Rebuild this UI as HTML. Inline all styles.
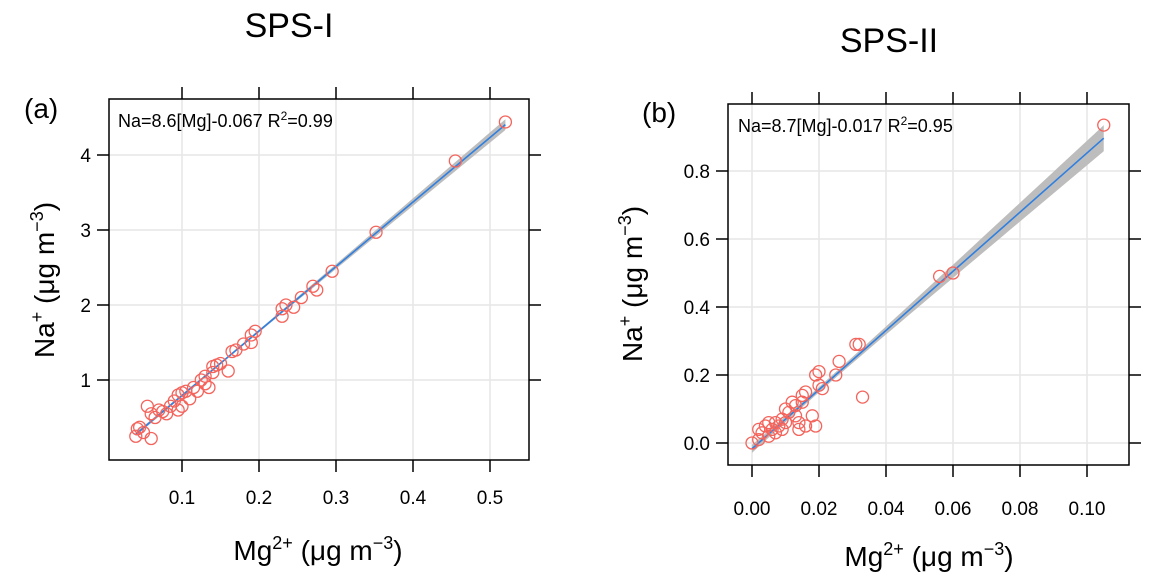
<!DOCTYPE html>
<html><head><meta charset="utf-8"><style>
body{margin:0;background:#fff;width:1153px;height:581px;overflow:hidden;position:relative}
svg text{font-family:"Liberation Sans",sans-serif;fill:#000}
</style></head><body>
<svg id="s" width="1153" height="581"></svg>
<script>
const xA=[0.04,0.042,0.045,0.05,0.055,0.06,0.06,0.065,0.07,0.075,0.08,0.085,0.09,0.095,0.095,0.1,0.1,0.105,0.11,0.115,0.12,0.125,0.13,0.13,0.135,0.14,0.14,0.145,0.15,0.16,0.165,0.17,0.18,0.19,0.19,0.195,0.23,0.23,0.235,0.245,0.255,0.27,0.275,0.295,0.352,0.455,0.52];
const yA=[0.25,0.35,0.37,0.3,0.65,0.22,0.55,0.5,0.6,0.58,0.55,0.65,0.72,0.6,0.8,0.65,0.83,0.85,0.75,0.9,0.85,1.0,0.95,1.05,0.9,1.1,1.18,1.2,1.22,1.12,1.38,1.4,1.48,1.6,1.5,1.65,1.85,1.95,2.0,1.97,2.1,2.25,2.2,2.45,2.97,3.92,4.44];
const xB=[0,0.002,0.002,0.003,0.004,0.005,0.005,0.006,0.007,0.007,0.008,0.009,0.009,0.01,0.01,0.011,0.012,0.013,0.013,0.014,0.014,0.015,0.015,0.016,0.016,0.018,0.019,0.019,0.02,0.02,0.021,0.025,0.026,0.031,0.032,0.033,0.056,0.06,0.105];
const yB=[0,0.01,0.04,0.03,0.05,0.02,0.06,0.04,0.03,0.06,0.05,0.04,0.07,0.06,0.1,0.09,0.12,0.11,0.08,0.04,0.06,0.12,0.14,0.15,0.05,0.08,0.2,0.05,0.21,0.17,0.16,0.2,0.24,0.29,0.29,0.135,0.49,0.5,0.935];
const xTicksA=[0.1,0.2,0.3,0.4,0.5], yTicksA=[1,2,3,4];
const xTicksB=[0,0.02,0.04,0.06,0.08,0.10], yTicksB=[0,0.2,0.4,0.6,0.8];
const fitA=[8.6,-0.067], fitB=[8.7,-0.017];
const S=document.getElementById('s'),NS='http://www.w3.org/2000/svg';
function el(t,a,txt){const e=document.createElementNS(NS,t);for(const k in a)e.setAttribute(k,a[k]);if(txt!=null)e.innerHTML=txt;S.appendChild(e);return e;}
function panel(o){
 const sx=v=>o.x0+(v-o.xv0)*o.kx, sy=v=>o.y0-(v-o.yv0)*o.ky;
 o.xt.forEach(v=>{let g=el('line',{x1:sx(v),x2:sx(v),y1:o.t,y2:o.b,stroke:'#e6e6e6','stroke-width':1.5});
  let k=el('line',{x1:sx(v),x2:sx(v),y1:o.b,y2:o.b+12,stroke:'#000','stroke-width':1.5});
  let k2=el('line',{x1:sx(v),x2:sx(v),y1:o.t,y2:o.t-12,stroke:'#000','stroke-width':1.5});
  let t=el('text',{x:sx(v),y:o.b+o.xl,'text-anchor':'middle','font-size':19},o.xf(v));});
 o.yt.forEach(v=>{let g=el('line',{x1:o.l,x2:o.r,y1:sy(v),y2:sy(v),stroke:'#e6e6e6','stroke-width':1.5});
  let k=el('line',{x1:o.l-12,x2:o.l,y1:sy(v),y2:sy(v),stroke:'#000','stroke-width':1.5});
  let k2=el('line',{x1:o.r,x2:o.r+12,y1:sy(v),y2:sy(v),stroke:'#000','stroke-width':1.5});
  let t=el('text',{x:o.l-18,y:sy(v)+7,'text-anchor':'end','font-size':19},o.yf(v));});
 const n=40,up=[],lo=[];
 for(let i=0;i<=n;i++){const x=o.fx0+(o.fx1-o.fx0)*i/n;const w=Math.sqrt(o.w0*o.w0+Math.pow(o.w1*(x-o.m),2));const y=o.f[0]*x+o.f[1];up.push(sx(x)+','+sy(y+w));lo.unshift(sx(x)+','+sy(y-w));}
 let band=el('polygon',{points:up.concat(lo).join(' '),fill:'#bdbdbd'});
 let ln=el('line',{x1:sx(o.fx0),y1:sy(o.f[0]*o.fx0+o.f[1]),x2:sx(o.fx1),y2:sy(o.f[0]*o.fx1+o.f[1]),stroke:'#2f7fe0','stroke-width':1.6});
 o.X.forEach((v,i)=>{let c=el('circle',{cx:sx(v),cy:sy(o.Y[i]),r:6,fill:'none',stroke:'#f4645c','stroke-width':1.3});});
 let bx=el('rect',{x:o.l,y:o.t,width:o.r-o.l,height:o.b-o.t,fill:'none',stroke:'#000','stroke-width':1.5});
}
panel({l:109,r:529,t:99,b:460,x0:182,xv0:0.1,kx:770,y0:380,yv0:1,ky:75,xt:xTicksA,yt:yTicksA,xf:v=>v.toFixed(1),yf:v=>v,f:fitA,fx0:0.04,fx1:0.52,w0:0.015,w1:0.19,m:0.15,xl:44,X:xA,Y:yA});
panel({l:728,r:1129,t:104,b:465,x0:752,xv0:0,kx:3350,y0:443,yv0:0,ky:340,xt:xTicksB,yt:yTicksB,xf:v=>v.toFixed(2),yf:v=>v.toFixed(1),f:fitB,fx0:0,fx1:0.105,w0:0.008,w1:0.44,m:0.02,xl:50,X:xB,Y:yB});
</script>
<svg width="1153" height="581" style="position:absolute;left:0;top:0">
<text x="289" y="37" text-anchor="middle" font-size="34">SPS-I</text>
<text x="889" y="52" text-anchor="middle" font-size="34">SPS-II</text>
<text x="24" y="118" font-size="28">(a)</text>
<text x="642" y="122" font-size="28">(b)</text>
<text x="118" y="127" font-size="18">Na=8.6[Mg]-0.067 R<tspan dy="-7" font-size="12">2</tspan><tspan dy="7">=0.99</tspan></text>
<text x="738" y="132" font-size="18">Na=8.7[Mg]-0.017 R<tspan dy="-7" font-size="12">2</tspan><tspan dy="7">=0.95</tspan></text>
<text transform="translate(54,280) rotate(-90)" text-anchor="middle" font-size="28">Na<tspan dy="-11" font-size="18">+</tspan><tspan dy="11"> (μg m</tspan><tspan dy="-11" font-size="18">−3</tspan><tspan dy="11">)</tspan></text>
<text transform="translate(642,284) rotate(-90)" text-anchor="middle" font-size="28">Na<tspan dy="-11" font-size="18">+</tspan><tspan dy="11"> (μg m</tspan><tspan dy="-11" font-size="18">−3</tspan><tspan dy="11">)</tspan></text>
<text x="318" y="560" text-anchor="middle" font-size="28">Mg<tspan dy="-11" font-size="18">2+</tspan><tspan dy="11"> (μg m</tspan><tspan dy="-11" font-size="18">−3</tspan><tspan dy="11">)</tspan></text>
<text x="929" y="566" text-anchor="middle" font-size="28">Mg<tspan dy="-11" font-size="18">2+</tspan><tspan dy="11"> (μg m</tspan><tspan dy="-11" font-size="18">−3</tspan><tspan dy="11">)</tspan></text>
</svg>
</body></html>
